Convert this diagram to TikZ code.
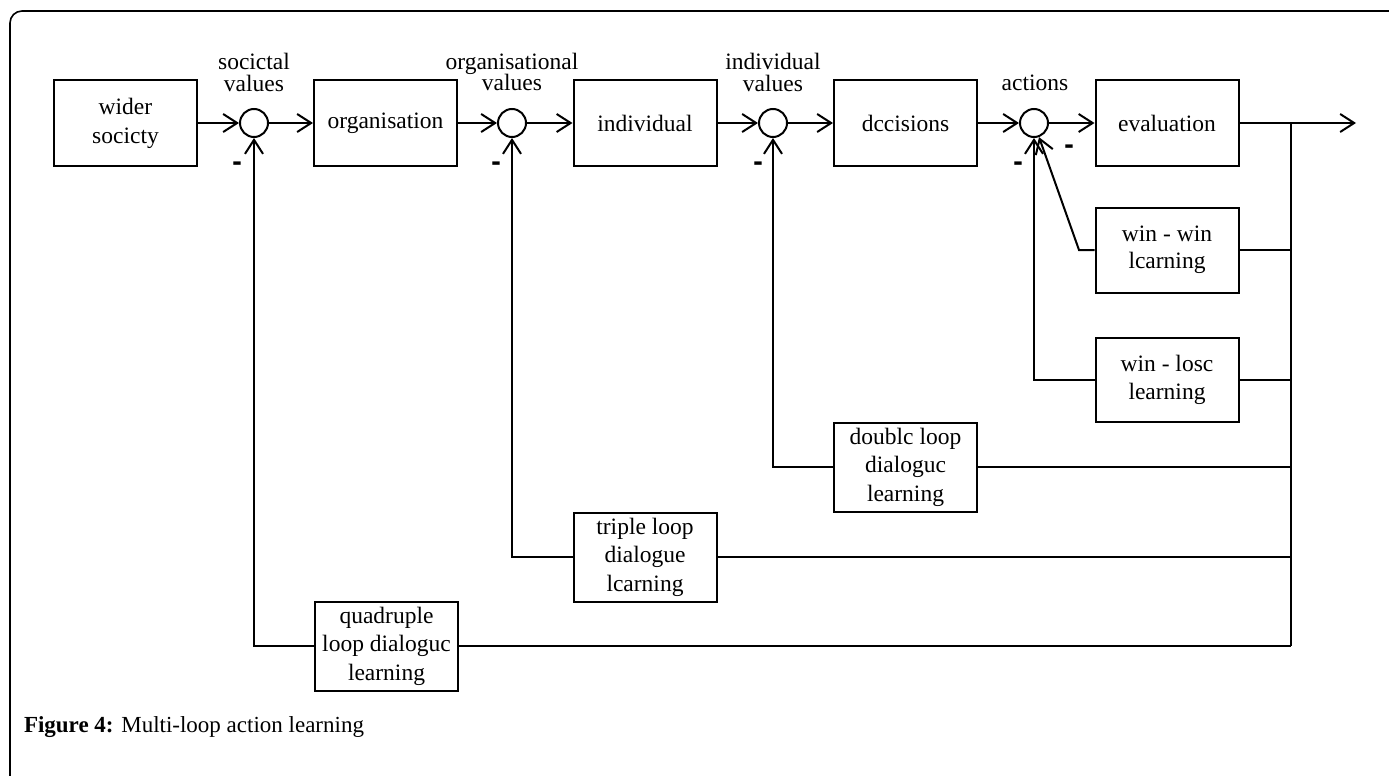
\documentclass[tikz,border=0pt]{standalone}
\usepackage{fontspec}
\setmainfont{Liberation Serif}
\newfontfamily\negfont{DejaVu Sans}
\usetikzlibrary{arrows.meta}

\begin{document}
\begin{tikzpicture}[x=1pt,y=-1pt,line width=2pt,
    >={Straight Barb[length=14pt,width=18pt]},
    box/.style={draw,minimum width=143pt,minimum height=86pt,inner sep=0pt,
      align=center,font=\fontsize{23.5}{29}\selectfont},
    loopbox/.style={box,minimum height=89pt,font=\fontsize{23.5}{28.5}\selectfont},
    sum/.style={draw,circle,minimum size=28pt,inner sep=0pt},
    lbl/.style={align=center,inner sep=0pt,font=\fontsize{23.5}{21.6}\selectfont},
    neg/.style={inner sep=0pt,font=\negfont\bfseries\fontsize{24}{24}\selectfont}]
  \useasboundingbox (0,0) rectangle (1389,776);
  \clip (0,0) rectangle (1389,776);
  \draw[line width=1.6pt,rounded corners=12pt] (10,11) rectangle (1420,800);

  % forward chain
  \node[box] (soc) at (125.5,123) {wider\\socicty};
  \node[sum] (c1) at (254,123) {};
  \node[box] (org) at (385.5,123) {organisation};
  \node[sum] (c2) at (512,123) {};
  \node[box] (ind) at (645,123) {individual};
  \node[sum] (c3) at (773,123) {};
  \node[box] (dec) at (905.5,123) {dccisions};
  \node[sum] (c4) at (1034,123) {};
  \node[box] (eva) at (1167,123) {evaluation};

  % labels above the junctions
  \node[lbl] (v1) at (254,72.5) {socictal\\values};
  \node[lbl] (v2) at (512,72) {organisational\\values};
  \node[lbl] (v3) at (773,72.5) {individual\\values};
  \node[lbl] (v4) at (1035,83) {actions};

  % learning loops
  \node[box,minimum height=85pt,font=\fontsize{23.5}{27}\selectfont] (ww) at (1167,250) {win - win\\lcarning};
  \node[box,minimum height=84pt,font=\fontsize{23.5}{28}\selectfont] (wl) at (1167,380) {win - losc\\learning};
  \node[loopbox] (dl) at (905.5,467) {doublc loop\\dialoguc\\learning};
  \node[loopbox] (tl) at (645,557) {triple loop\\dialogue\\lcarning};
  \node[loopbox] (ql) at (386.5,646) {quadruple\\loop dialoguc\\learning};

  % minus signs
  \node[neg] (m1) at (237,166) {-};
  \node[neg] (m2) at (496,166) {-};
  \node[neg] (m3) at (758,166) {-};
  \node[neg] (m4) at (1018,166) {-};
  \node[neg] (m5) at (1069,149) {-};

  \coordinate (out) at (1356,123);
  \coordinate (bt) at (1291,123);
  \coordinate (bb) at (1291,646);
  \coordinate (wwk) at (1079,250);

  \begin{scope}[->]
    \draw (soc) to (c1);
    \draw (c1) to (org);
    \draw (org) to (c2);
    \draw (c2) to (ind);
    \draw (ind) to (c3);
    \draw (c3) to (dec);
    \draw (dec) to (c4);
    \draw (c4) to (eva);
    \draw (eva) to (out);
    \draw (ww.west) -- (wwk) -- (c4);
    \draw (wl.west) -| (c4);
    \draw (dl.west) -| (c3);
    \draw (tl.west) -| (c2);
    \draw (ql.west) -| (c1);
  \end{scope}
  \begin{scope}[-]
    \draw (bt) to (bb);
    \draw (ww.east) to (ww.east -| bt);
    \draw (wl.east) to (wl.east -| bt);
    \draw (dl.east) to (dl.east -| bt);
    \draw (tl.east) to (tl.east -| bt);
    \draw (ql.east) to (ql.east -| bt);
  \end{scope}

  \node[anchor=west,inner sep=0pt,font=\fontsize{23}{27}\selectfont] (cap) at (23,727)
    {\textbf{Figure 4:} Multi-loop action learning};
\end{tikzpicture}
\end{document}
